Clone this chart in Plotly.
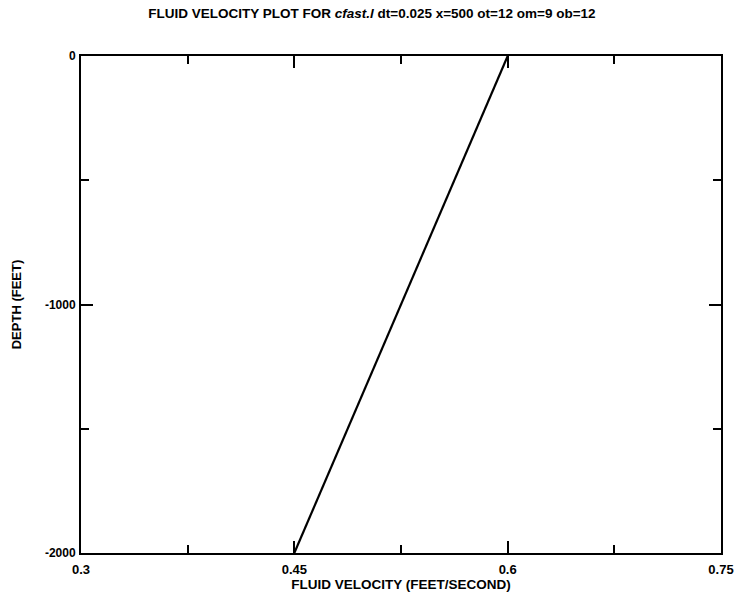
import plotly.graph_objects as go

depth = [-2000, -1000, 0]
velocity = [0.45, 0.525, 0.6]

x_ticks = [0.3, 0.45, 0.6, 0.75]
x_tick_labels = ["0.3", "0.45", "0.6", "0.75"]
x_minor = [0.375, 0.525, 0.675]
y_ticks = [-2000, -1000, 0]
y_tick_labels = ["-2000", "-1000", "0"]
y_minor = [-1500, -500]

title_text = "FLUID VELOCITY PLOT FOR <i>cfast.l</i> dt=0.025 x=500 ot=12 om=9 ob=12"

fig = go.Figure()
fig.add_trace(go.Scatter(x=velocity, y=depth, mode="lines",
                         line=dict(color="black", width=2.2), showlegend=False))

font_main = "Liberation Sans, Arial, sans-serif"
fig.update_layout(
    width=735, height=593,
    margin=dict(l=81, r=14, t=56, b=40, autoexpand=False),
    paper_bgcolor="white", plot_bgcolor="white",
    title=dict(text="<b>" + title_text + "</b>", x=0.506, xanchor="center", y=0.978, yanchor="middle",
               font=dict(family=font_main, size=13.5, color="black")),
    font=dict(family=font_main, color="black"),
)
fig.update_xaxes(
    range=[0.3, 0.75], tickvals=x_ticks,
    ticktext=["<b>" + t + "</b>" for t in x_tick_labels],
    ticks="inside", ticklen=12, tickwidth=2, tickcolor="black",
    minor=dict(tickvals=x_minor, ticks="inside", ticklen=8, tickwidth=2, tickcolor="black"),
    showline=True, linecolor="black", linewidth=2, mirror="ticks",
    showgrid=False, zeroline=False, automargin=False,
    ticklabelstandoff=3,
    tickfont=dict(size=13, family=font_main),
    title=dict(text="<b>FLUID VELOCITY (FEET/SECOND)</b>", font=dict(size=13.5, family=font_main), standoff=0),
)
fig.update_yaxes(
    range=[-2000, 0], tickvals=y_ticks,
    ticktext=["<b>" + t + "</b>" for t in y_tick_labels],
    ticks="inside", ticklen=12, tickwidth=2, tickcolor="black",
    minor=dict(tickvals=y_minor, ticks="inside", ticklen=8, tickwidth=2, tickcolor="black"),
    showline=True, linecolor="black", linewidth=2, mirror="ticks",
    showgrid=False, zeroline=False, automargin=False,
    ticklabelstandoff=1,
    tickfont=dict(size=12, family=font_main),
    title=dict(text="<b>DEPTH (FEET)</b>", font=dict(size=13, family=font_main), standoff=20),
)
fig.write_html("out.html")
